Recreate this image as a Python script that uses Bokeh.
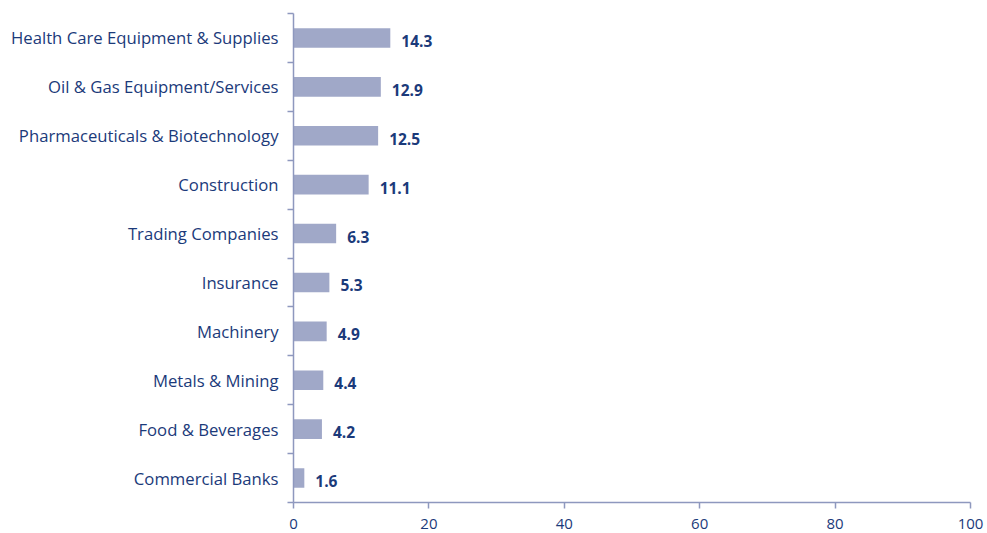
from bokeh.plotting import figure
from bokeh.models import Range1d, FixedTicker, ColumnDataSource
from bokeh.core.properties import value
from bokeh.embed import file_html
from bokeh.resources import INLINE

categories = ["Health Care Equipment & Supplies", "Oil & Gas Equipment/Services",
              "Pharmaceuticals & Biotechnology", "Construction", "Trading Companies",
              "Insurance", "Machinery", "Metals & Mining", "Food & Beverages",
              "Commercial Banks"]
values = [14.3, 12.9, 12.5, 11.1, 6.3, 5.3, 4.9, 4.4, 4.2, 1.6]
x_ticks = [0, 20, 40, 60, 80, 100]

n = len(categories)
ypos = [n - i - 0.5 for i in range(n)]
labels = [f"{v:.1f}" for v in values]

TEXT = "#1b3a7a"
AXIS = "#8e98be"
BAR = "#a0a8c8"
FONT = "Open Sans"

src = ColumnDataSource(dict(y=ypos, v=values, lab=labels))

p = figure(width=986, height=533, output_backend="svg", toolbar_location=None,
           x_range=Range1d(0, 100), y_range=Range1d(0, n),
           min_border_left=293, min_border_right=16, min_border_top=13,
           min_border_bottom=31)
p.outline_line_color = None
p.grid.grid_line_color = None
p.background_fill_color = "white"
p.border_fill_color = "white"

p.hbar(y="y", right="v", left=0, height=0.4, source=src, fill_color=BAR,
       line_color=None)
p.text(x="v", y="y", text="lab", source=src, x_offset=11, y_offset=3,
       text_baseline="middle", text_align="left", text_font=value(FONT),
       text_font_size="15.5px", text_font_style="bold", text_color=TEXT)

# x axis
xa = p.xaxis[0]
xa.ticker = FixedTicker(ticks=x_ticks)
xa.axis_line_color = AXIS
xa.axis_line_width = 1.5
xa.major_tick_line_color = AXIS
xa.major_tick_line_width = 1.5
xa.major_tick_in = 0
xa.major_tick_out = 6
xa.minor_tick_line_color = None
xa.major_label_text_font = FONT
xa.major_label_text_font_size = "15px"
xa.major_label_text_color = TEXT
xa.major_label_standoff = 10

# y axis
ya = p.yaxis[0]
ya.ticker = FixedTicker(ticks=ypos, minor_ticks=list(range(n + 1)))
ya.major_label_overrides = {y: c for y, c in zip(ypos, categories)}
ya.axis_line_color = AXIS
ya.axis_line_width = 1.5
ya.major_tick_line_color = None
ya.major_tick_in = 0
ya.major_tick_out = 0
ya.minor_tick_line_color = AXIS
ya.minor_tick_line_width = 1.5
ya.minor_tick_in = 0
ya.minor_tick_out = 6
ya.major_label_text_font = FONT
ya.major_label_text_font_size = "16.7px"
ya.major_label_text_color = TEXT
ya.major_label_standoff = 9

open("out.html", "w").write(file_html(p, INLINE))
